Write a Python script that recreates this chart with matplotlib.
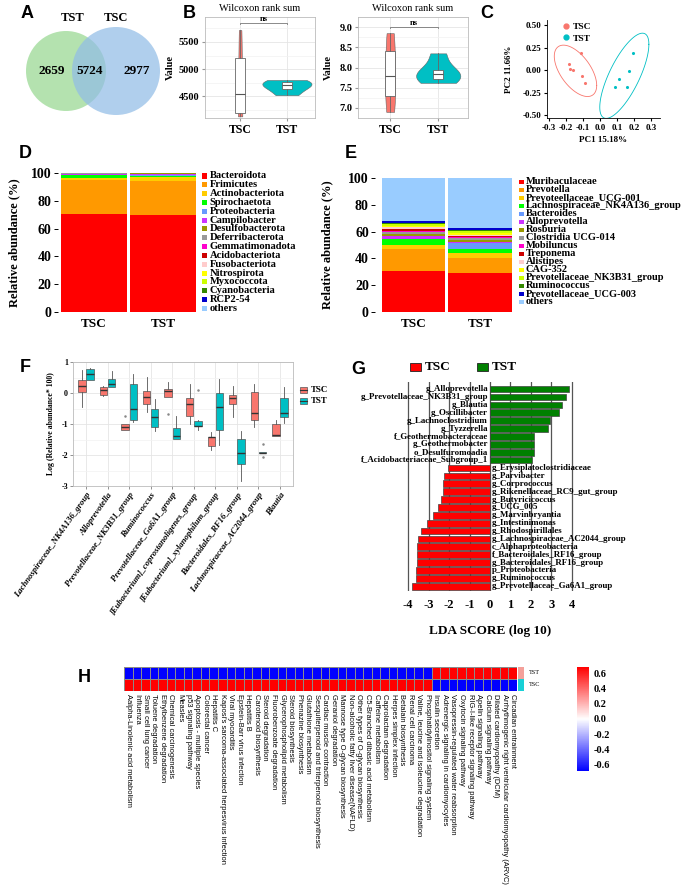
import numpy as np
import matplotlib
matplotlib.use("Agg")
import matplotlib.pyplot as plt
from matplotlib.patches import Circle, Rectangle
from matplotlib.lines import Line2D
from matplotlib.colors import LinearSegmentedColormap

# ============================================================
# multi-panel microbiome figure (A-H)
# ============================================================

W, H = 685, 889
SERIF = ["Liberation Serif", "DejaVu Serif"]
SANS = ["Liberation Sans", "DejaVu Sans"]
plt.rcParams["font.family"] = SERIF
plt.rcParams["font.weight"] = "bold"
plt.rcParams["axes.labelweight"] = "bold"

C_TSC = "#F8766D"
C_TST = "#00BFC4"

# ── A : venn ──────────────────────────────────────────────
venn_names = ["TST", "TSC"]
venn_counts = [2659, 5724, 2977]

# ── B : alpha diversity (5 samples each) ─────────────────
groups = ["TSC", "TST"]
chao_tsc = [4130, 4185, 4540, 5200, 5720]
chao_tst = [4520, 4640, 4700, 4760, 4800]
shan_tsc = [6.90, 7.30, 7.78, 8.42, 8.85]
shan_tst = [7.62, 7.72, 7.85, 7.95, 8.35]

# ── C : PCA ──────────────────────────────────────────────
pc1_tsc = [-0.109, -0.182, -0.178, -0.159, -0.105, -0.090]
pc2_tsc = [0.185, 0.067, 0.007, 0.000, -0.067, -0.148]
pc1_tst = [0.193, 0.171, 0.109, 0.090, 0.160]
pc2_tst = [0.185, -0.011, -0.096, -0.185, -0.185]

# ── D : phylum composition ───────────────────────────────
phyla = ["Bacteroidota", "Frimicutes", "Actinobacteriota", "Spirochaetota",
         "Proteobacteria", "Campilobacter", "Desulfobacterota", "Deferribacterota",
         "Gemmatimonadota", "Acidobacteriota", "Fusobacteriota", "Nitrospirota",
         "Myxococcota", "Cyanobacteria", "RCP2-54", "others"]
phy_tsc = [70.5, 24.8, 1.2, 1.9, 0.5, 0.6, 0.1, 0.05, 0.05, 0.05, 0.05, 0.03, 0.03, 0.03, 0.01, 0.2]
phy_tst = [69.8, 24.6, 2.4, 0.9, 1.2, 0.7, 0.1, 0.05, 0.05, 0.05, 0.05, 0.03, 0.03, 0.03, 0.01, 0.1]

# ── E : genus composition ────────────────────────────────
genera = ["Muribaculaceae", "Prevotella", "Prevoteellaceae_UCG-001",
          "Lachnospiraceae_NK4A136_group", "Bacteroides", "Alloprevotella",
          "Rosburia", "Clostridia UCG-014", "Mobiluncus", "Treponema", "Alistipes",
          "CAG-352", "Prevotellaceae_NK3B31_group", "Ruminococcus",
          "Prevotellaceae_UCG-003", "others"]
gen_tsc = [30.8, 16.2, 2.8, 4.4, 0.4, 2.2, 1.5, 1.5, 0.6, 1.8, 1.0, 1.3, 0.9, 1.2, 1.0, 32.4]
gen_tst = [29.4, 11.1, 3.8, 2.5, 4.4, 1.0, 1.8, 1.0, 0.8, 0.6, 1.0, 1.8, 1.3, 0.7, 1.5, 37.3]

STACK_COLORS = ["#FF0000", "#FF9900", "#FFCC00", "#00FF00", "#6699FF", "#CC33FF",
                "#999900", "#999999", "#FF00CC", "#CC0000", "#FFCCCC", "#FFFF00",
                "#CCFF00", "#338800", "#0000CC", "#99CCFF"]

# ── F : differential genera boxplots ─────────────────────
f_taxa = ["Lachnospiraceae_NK4A136_group", "Alloprevotella",
          "Prevotellaceae_NK3B31_group", "Ruminococcus", "Prevotellaceae_Ga6A1_group",
          "[Eubacterium]_coprostanoligenes_group", "[Eubacterium]_xylanophilum_group",
          "Bacteroidales_RF16_group", "Lachnospiraceae_AC2044_group", "Blautia"]
tsc_lo  = [-0.45, -0.10, -1.20, -0.61, -0.13, -1.00, -1.84, -0.77, -1.11, -1.39]
tsc_q1  = [0.03, -0.05, -1.18, -0.37, -0.13, -0.74, -1.70, -0.37, -0.88, -1.39]
tsc_med = [0.22, 0.09, -1.09, -0.13, 0.06, -0.34, -1.43, -0.15, -0.63, -1.36]
tsc_q3  = [0.43, 0.20, -1.00, 0.06, 0.14, -0.15, -1.41, -0.07, 0.03, -1.00]
tsc_hi  = [0.73, 0.22, -1.00, 0.52, 0.36, 0.28, -1.25, 0.22, 0.30, -0.88]
tsc_out = [[], [], [-0.73], [], [-0.68], [], [], [], [], []]
tst_lo  = [0.41, 0.20, -0.93, -1.23, -1.49, -1.20, -1.68, -2.83, -1.95, -0.98]
tst_q1  = [0.43, 0.20, -0.88, -1.11, -1.49, -1.07, -1.18, -2.29, -1.95, -0.79]
tst_med = [0.60, 0.28, -0.53, -0.79, -1.39, -1.06, -0.45, -1.93, -1.92, -0.66]
tst_q3  = [0.76, 0.46, 0.30, -0.50, -1.14, -0.90, 0.00, -1.47, -1.90, -0.15]
tst_hi  = [0.82, 0.70, 0.62, -0.18, -0.75, -0.86, 0.46, -1.22, -1.90, 0.20]
tst_out = [[], [], [], [], [], [0.09], [], [], [-1.66, -2.06], []]

# ── G : LEfSe ────────────────────────────────────────────
lda_taxa = ["g_Alloprevotella", "g_Prevotellaceae_NK3B31_group", "g_Blautia",
            "g_Oscillibacter", "g_Lachnoclostridium", "g_Tyzzerella",
            "f_Geothermobacteraceae", "g_Geothermobacter", "o_Desulfuromoadia",
            "f_Acidobacteriaceae_Subgroup_1", "g_Erysiplatoclostridiaceae",
            "g_Parvibacter", "g_Corprococcus", "g_Rikenellaceae_RC9_gut_group",
            "g_Butyricicoccus", "g_UCG_005", "g_Marvinbryantia", "g_Intestinimonas",
            "g_Rhodospirillales", "g_Lachnospiraceae_AC2044_group",
            "c_Alphaproteobacteria", "f_Bacteroidales_RF16_group",
            "g_Bacteroidales_RF16_group", "p_Proteobacteria", "g_Ruminococcus",
            "g_Prevotellaceae_Ga6A1_group"]
lda_score = [3.87, 3.72, 3.51, 3.37, 2.93, 2.85, 2.14, 2.14, 2.14, 2.07,
             -2.04, -2.26, -2.29, -2.32, -2.37, -2.55, -2.78, -3.08, -3.39,
             -3.54, -3.56, -3.59, -3.59, -3.60, -3.62, -3.82]

# ── H : KEGG heatmap (row z-scores) ──────────────────────
h_pathways = ["Aalpha-Linolenic acid metabolism", "Influenza", "Small cell lung cancer",
              "Toluene degradation", "Ethylbenzene degradation", "Chemical carcinogenesis",
              "Measles", "p53 signaling pathway", "Apoptosis - multiple species",
              "Colorectal cancer", "Hepatitis C",
              "Kaposi's sarcoma-associated herpesvirus infection", "Viral myocarditis",
              "Epstein-Barr virus infection", "Hepatitis B", "Carotenoid biosynthesis",
              "Steroid degradation", "Fluorobenzoate degradation",
              "Glycerophospholipid metabolism", "Steroid biosynthesis",
              "Phenazine biosynthesis", "Glutathione metabolism",
              "Sesquiterpenoid and triterpenoid biosynthesis", "Cardiac muscle contraction",
              "Geraniol degradation", "Mannose type O-glycan biosynthesis",
              "Non-alcoholic fatty liver disease(NAFLD)", "Other types of O-glycan biosynthesis",
              "C5-Branched dibasic acid metabolism", "Caffeine metabolism",
              "Caprolactam degradation", "Herpes simplex infection", "Betalain biosynthesis",
              "Renal cell carcinoma", "Valine, leucine and isoleucine degradation",
              "Phosphatidylinositol signaling system", "Insulin secretion",
              "Adrenergic signaling in cardiomyocytes",
              "Vasopressin-regulated water reabsorption", "Oxytocin signaling pathway",
              "RIG-I-like receptor signaling pathway", "Apelin signaling pathway",
              "Calcium signaling pathway", "Dilated cardiomyopathy (DCM)",
              "Arrhythmogenic right ventricular cardiomyopathy (ARVC)", "Circadian entrainment"]
h_rows = ["TST", "TSC"]
h_tst = [-0.68, -0.68, -0.68, -0.68, -0.68, -0.68, -0.68, -0.68, -0.68, -0.68, -0.68, -0.68,
         -0.68, -0.68, -0.68, -0.68, -0.68, -0.68, -0.68, -0.68, -0.68, -0.68, -0.68, -0.68,
         -0.68, -0.68, -0.68, -0.68, -0.68, -0.68, -0.68, -0.68, -0.68, -0.68, -0.68, -0.68,
         0.68, 0.68, 0.68, 0.68, 0.68, 0.68, 0.68, 0.68, 0.68, 0.68]
h_tsc = [0.68, 0.68, 0.68, 0.68, 0.68, 0.68, 0.68, 0.68, 0.68, 0.68, 0.68, 0.68,
         0.68, 0.68, 0.68, 0.68, 0.68, 0.68, 0.68, 0.68, 0.68, 0.68, 0.68, 0.68,
         0.68, 0.68, 0.68, 0.68, 0.68, 0.68, 0.68, 0.68, 0.68, 0.68, 0.68, 0.68,
         -0.68, -0.68, -0.68, -0.68, -0.68, -0.68, -0.68, -0.68, -0.68, -0.68]

fig = plt.figure(figsize=(W / 100, H / 100), dpi=100)


def add_ax(l, t, r, b):
    """axes from pixel box (left, top, right, bottom)"""
    return fig.add_axes([l / W, 1 - b / H, (r - l) / W, (b - t) / H])


def fx(x):
    return x / W


def fy(y):
    return 1 - y / H


def letter(x, y, s):
    fig.text(fx(x), fy(y), s, fontsize=13, fontweight="bold", family=SANS,
             ha="center", va="center")


def light_grid(ax, minor_y=None):
    ax.set_axisbelow(True)
    ax.grid(True, color="#e5e5e5", lw=0.6)
    if minor_y is not None:
        ax.set_yticks(minor_y, minor=True)
        ax.grid(True, which="minor", axis="y", color="#f2f2f2", lw=0.5)
        ax.tick_params(which="minor", length=0)
    for s in ax.spines.values():
        s.set_color("#bbbbbb")
        s.set_linewidth(0.6)


# ── A ────────────────────────────────────────────────────
def panel_a():
    ax = add_ax(15, 8, 180, 132)
    ax.set_xlim(15, 180)
    ax.set_ylim(132, 8)
    ax.axis("off")
    ax.add_patch(Circle((66, 71), 40, color="#97d891", alpha=0.72, lw=0))
    ax.add_patch(Circle((116, 71), 44, color="#92bde6", alpha=0.72, lw=0))
    ax.text(73, 18, venn_names[0], fontsize=9, ha="center", va="center")
    ax.text(116, 18, venn_names[1], fontsize=9, ha="center", va="center")
    for x, n in zip([52, 90, 137], venn_counts):
        ax.text(x, 71, str(n), fontsize=9.5, ha="center", va="center")
    letter(27, 14, "A")


# ── B ────────────────────────────────────────────────────
def violin_box(ax, d1, d2, vw, ylim, yticks, fmt):
    data = [d1, d2]
    parts = ax.violinplot(data, positions=[1, 2], widths=vw, showextrema=False)
    for pc, c in zip(parts["bodies"], [C_TSC, C_TST]):
        pc.set_facecolor(c)
        pc.set_edgecolor("#666666")
        pc.set_linewidth(0.4)
        pc.set_alpha(1)
    ax.boxplot(data, positions=[1, 2], widths=0.2, patch_artist=True,
               showcaps=False, showfliers=False, whis=(0, 100),
               boxprops=dict(facecolor="white", edgecolor="#666666", lw=0.6),
               medianprops=dict(color="#555555", lw=0.8),
               whiskerprops=dict(color="#666666", lw=0.6))
    ymax = max(max(d1), max(d2))
    rng = ymax - min(min(d1), min(d2))
    yb = ymax + 0.08 * rng
    ax.plot([1, 1, 2, 2], [yb - 0.015 * rng, yb, yb, yb - 0.015 * rng], color="#777777", lw=0.6)
    ax.text(1.5, yb, "ns", fontsize=6, ha="center", va="bottom")
    ax.set_ylim(*ylim)
    ax.set_yticks(yticks)
    ax.set_yticklabels([fmt.format(v) for v in yticks], fontsize=7.5)
    ax.set_xticks([1, 2])
    ax.set_xticklabels(groups, fontsize=8.5)
    ax.set_title("Wilcoxon rank sum", fontsize=7.5, pad=4)
    ax.set_ylabel("Value", fontsize=7.5)
    ax.tick_params(length=2, color="#999999", pad=2)
    step = yticks[1] - yticks[0]
    mids = [v - step / 2 for v in yticks] + [yticks[-1] + step / 2]
    light_grid(ax, mids)


def panel_b():
    ax1 = add_ax(205, 17, 315, 118)
    violin_box(ax1, chao_tsc, chao_tst, [0.1, 1.05], (4100, 5960), [4500, 5000, 5500], "{:.0f}")
    ax1.set_xlim(0.25, 2.6)
    ax1.yaxis.set_label_coords((175 - 205) / 110, 0.5)
    ax2 = add_ax(358, 17, 468, 118)
    violin_box(ax2, shan_tsc, shan_tst, [0.21, 0.92], (6.88, 9.13), [7.0, 7.5, 8.0, 8.5, 9.0], "{:.1f}")
    ax2.set_xlim(0.33, 2.62)
    ax2.yaxis.set_label_coords((333 - 358) / 110, 0.5)
    letter(189, 14, "B")


# ── C ────────────────────────────────────────────────────
def t_ellipse(xs, ys, level=0.95, nu=5, n_seg=120):
    """95% ellipse like ggplot stat_ellipse (robust t covariance)"""
    pts = np.column_stack([xs, ys])
    n = len(pts)
    w = np.ones(n)
    for _ in range(200):
        ctr = (w[:, None] * pts).sum(0) / w.sum()
        d = pts - ctr
        cov = (w[:, None, None] * np.einsum("ni,nj->nij", d, d)).sum(0) / n
        q = np.einsum("ni,ij,nj->n", d, np.linalg.inv(cov), d)
        w_new = (nu + 2) / (nu + q)
        if np.allclose(w_new, w, atol=1e-8):
            break
        w = w_new
    dfd = n - 1
    fq = dfd / 2 * ((1 - level) ** (-2 / dfd) - 1)
    radius = np.sqrt(2 * fq)
    t = np.linspace(0, 2 * np.pi, n_seg)
    circ = np.column_stack([np.cos(t), np.sin(t)])
    chol = np.linalg.cholesky(cov)
    ell = ctr + radius * circ @ chol.T
    return ell[:, 0], ell[:, 1]


def panel_c():
    ax = add_ax(547, 20, 660, 118)
    ax.scatter(pc1_tsc, pc2_tsc, s=1.5, color=C_TSC)
    ax.scatter(pc1_tst, pc2_tst, s=1.5, color=C_TST)
    for xs, ys, c in [(pc1_tsc, pc2_tsc, C_TSC), (pc1_tst, pc2_tst, C_TST)]:
        ex, ey = t_ellipse(xs, ys)
        ax.plot(ex, ey, color=c, lw=0.6)
    ax.set_xlim(-0.31, 0.35)
    ax.set_ylim(-0.53, 0.555)
    ax.set_xticks([-0.3, -0.2, -0.1, 0.0, 0.1, 0.2, 0.3])
    ax.set_xticklabels(["-0.3", "-0.2", "-0.1", "0.0", "0.1", "0.2", "0.3"], fontsize=6.5)
    ax.set_yticks([-0.5, -0.25, 0, 0.25, 0.5])
    ax.set_yticklabels(["-0.50", "-0.25", "0.00", "0.25", "0.50"], fontsize=6.5)
    ax.tick_params(length=2, pad=2)
    for s in ["top", "right"]:
        ax.spines[s].set_visible(False)
    for s in ["left", "bottom"]:
        ax.spines[s].set_linewidth(0.6)
    ax.set_xlabel("PC1 15.18%", fontsize=6.5, labelpad=3)
    ax.set_ylabel("PC2 11.66%", fontsize=6.5)
    ax.yaxis.set_label_coords((513 - 547) / 113, 0.5)
    hs = [Line2D([], [], ls="", marker="o", ms=3.5, color=c) for c in [C_TSC, C_TST]]
    ax.legend(hs, groups, loc="upper left", bbox_to_anchor=(0.05, 1.06), frameon=False,
              fontsize=6.8, handletextpad=0.2, labelspacing=0.3, handlelength=1)
    letter(487, 14, "C")


# ── D / E stacked bars ───────────────────────────────────
def stacked(ax, v1, v2):
    bottoms = [0.0, 0.0]
    for i, c in enumerate(STACK_COLORS):
        vals = [v1[i], v2[i]]
        ax.bar([1, 2], vals, bottom=bottoms, width=0.955, color=c, lw=0)
        bottoms = [bottoms[0] + vals[0], bottoms[1] + vals[1]]
    ax.set_ylim(0, 100)
    ax.set_yticks([0, 20, 40, 60, 80, 100])
    ax.tick_params(axis="y", labelsize=10, length=3, width=0.7, pad=1.5)
    ax.set_xticks([1, 2])
    ax.set_xticklabels(groups, fontsize=9.5)
    ax.tick_params(axis="x", length=0, pad=4)
    for s in ax.spines.values():
        s.set_visible(False)


def stack_legend(names, x0, y0, step, size, fs):
    for i, (nm, c) in enumerate(zip(names, STACK_COLORS)):
        y = y0 + i * step
        fig.add_artist(Rectangle((fx(x0), fy(y + size / 2)), size / W, size / H,
                                 transform=fig.transFigure, color=c, lw=0))
        fig.text(fx(x0 + size + 2.5), fy(y), nm, fontsize=fs, va="center", ha="left")


def panel_d():
    ax = add_ax(58, 173, 200, 312)
    stacked(ax, phy_tsc, phy_tst)
    ax.set_xlim(0.478, 2.536)
    ax.set_ylabel("Relative abundance (%)", fontsize=9)
    ax.yaxis.set_label_coords((20 - 58) / 142, 0.5)
    stack_legend(phyla, 202, 176, 8.83, 5, 7.6)
    letter(25, 153, "D")


def panel_e():
    ax = add_ax(375, 178, 515, 312)
    stacked(ax, gen_tsc, gen_tst)
    ax.set_xlim(0.421, 2.526)
    ax.set_ylabel("Relative abundance (%)", fontsize=9)
    ax.yaxis.set_label_coords((333 - 375) / 140, 0.5)
    stack_legend(genera, 519, 182, 8.0, 4.5, 7.5)
    letter(351, 153, "E")


# ── F ────────────────────────────────────────────────────
def panel_f():
    ax = add_ax(73, 362, 293, 486)
    pos = np.arange(1, len(f_taxa) + 1)
    for off, col, lo, q1, md, q3, hi, out in [
            (-0.19, C_TSC, tsc_lo, tsc_q1, tsc_med, tsc_q3, tsc_hi, tsc_out),
            (0.19, C_TST, tst_lo, tst_q1, tst_med, tst_q3, tst_hi, tst_out)]:
        stats = [dict(whislo=a, q1=b, med=c, q3=d, whishi=e, fliers=f)
                 for a, b, c, d, e, f in zip(lo, q1, md, q3, hi, out)]
        ax.bxp(stats, positions=pos + off, widths=0.34, patch_artist=True,
               showcaps=False,
               boxprops=dict(facecolor=col, edgecolor="#555555", lw=0.5),
               medianprops=dict(color="#333333", lw=1.0),
               whiskerprops=dict(color="#555555", lw=0.6),
               flierprops=dict(marker="o", ms=0.8, mfc="#888888", mec="#888888"))
    ax.set_xlim(0.4, 10.6)
    ax.set_ylim(-3, 1)
    ax.set_yticks([-3, -2, -1, 0, 1])
    ax.set_yticklabels(["-3", "-2", "-1", "0", "1"], fontsize=5.8)
    ax.set_xticks(pos)
    ax.set_xticklabels(f_taxa, rotation=55, ha="right", rotation_mode="anchor",
                       fontsize=6.2, fontstyle="italic")
    ax.tick_params(length=2, width=0.5, pad=1.5, color="#666666")
    ax.set_ylabel("Log (Relative abundance* 100)", fontsize=5.6)
    ax.yaxis.set_label_coords((55 - 73) / 220, 0.5)
    light_grid(ax, [-2.5, -1.5, -0.5, 0.5])
    # legend keys
    for i, (g, c) in enumerate(zip(groups, [C_TSC, C_TST])):
        y = 390 + i * 11
        fig.add_artist(Rectangle((fx(300), fy(y + 3)), 7 / W, 6 / H, transform=fig.transFigure,
                                 fc=c, ec="#555555", lw=0.5))
        fig.add_artist(Line2D([fx(300), fx(307)], [fy(y), fy(y)], transform=fig.transFigure,
                              color="#333333", lw=0.8))
        fig.text(fx(311), fy(y), g, fontsize=6.4, va="center")
    letter(25, 368, "F")


# ── G ────────────────────────────────────────────────────
def panel_g():
    ax = add_ax(402, 382, 578, 591)
    n = len(lda_taxa)
    ys = np.arange(n)[::-1]
    cols = ["#008000" if v > 0 else "#FF0000" for v in lda_score]
    for x in range(-4, 5):
        ax.axvline(x, color="#555555", lw=0.9, zorder=0)
    ax.barh(ys, lda_score, height=0.85, color=cols, edgecolor="#444444", lw=0.5, zorder=2)
    for y, v, t in zip(ys, lda_score, lda_taxa):
        if v > 0:
            ax.text(-0.1, y, t, ha="right", va="center", fontsize=6.4, zorder=3)
        else:
            ax.text(0.1, y, t, ha="left", va="center", fontsize=6.4, zorder=3)
    ax.set_xlim(-4.3, 4.3)
    ax.set_ylim(-0.6, n - 0.1)
    ax.set_xticks(range(-4, 5))
    ax.set_xticklabels([str(v) for v in range(-4, 5)], fontsize=9)
    ax.set_yticks([])
    ax.tick_params(axis="x", length=0, pad=6)
    for s in ax.spines.values():
        s.set_visible(False)
    ax.set_xlabel("LDA SCORE (log 10)", fontsize=9.5, labelpad=10)
    for x0, c, g in [(410, "#FF0000", "TSC"), (477, "#008000", "TST")]:
        fig.add_artist(Rectangle((fx(x0), fy(371)), 11 / W, 8 / H, transform=fig.transFigure,
                                 fc=c, ec="#222222", lw=0.6))
        fig.text(fx(x0 + 15), fy(367), g, fontsize=9.5, va="center")
    letter(358, 369, "G")


# ── H ────────────────────────────────────────────────────
def panel_h():
    ax = add_ax(124, 667, 517, 691)
    cmap = LinearSegmentedColormap.from_list("bwr2", ["#0000FF", "#FFFFFF", "#FF0000"])
    mat = np.array([h_tst, h_tsc])
    mesh = ax.pcolormesh(mat, cmap=cmap, vmin=-0.68, vmax=0.68,
                         edgecolors="#8a8a8a", linewidth=0.4)
    ax.set_ylim(2, 0)
    ax.set_xlim(0, len(h_pathways))
    ax.set_yticks([])
    ax.set_xticks(np.arange(len(h_pathways)) + 0.5)
    ax.set_xticklabels(h_pathways, rotation=270, ha="center", va="top",
                       fontsize=5.4, family=SANS, fontweight="normal")
    ax.tick_params(length=0, pad=2)
    for s in ax.spines.values():
        s.set_visible(False)
    # group stripe
    sax = add_ax(518, 667, 524, 691)
    sax.pcolormesh(np.array([[0], [1]]), cmap=LinearSegmentedColormap.from_list(
        "grp", ["#F4A09A", "#18D0D6"]), vmin=0, vmax=1)
    sax.set_ylim(2, 0)
    sax.axis("off")
    for i, r in enumerate(h_rows):
        fig.text(fx(529), fy(673 + i * 12), r, fontsize=4.5, va="center",
                 fontweight="normal")
    # colour bar
    cax = add_ax(577, 667, 589, 771)
    cb = fig.colorbar(mesh, cax=cax, ticks=[-0.6, -0.4, -0.2, 0.0, 0.2, 0.4, 0.6])
    cb.outline.set_visible(False)
    cb.ax.tick_params(length=0, labelsize=7.5, pad=3)
    cb.ax.set_yticklabels(["-0.6", "-0.4", "-0.2", "0.0", "0.2", "0.4", "0.6"])
    letter(84, 678, "H")


panel_a()
panel_b()
panel_c()
panel_d()
panel_e()
panel_f()
panel_g()
panel_h()

fig.savefig("out.png", dpi=100)
plt.close(fig)
